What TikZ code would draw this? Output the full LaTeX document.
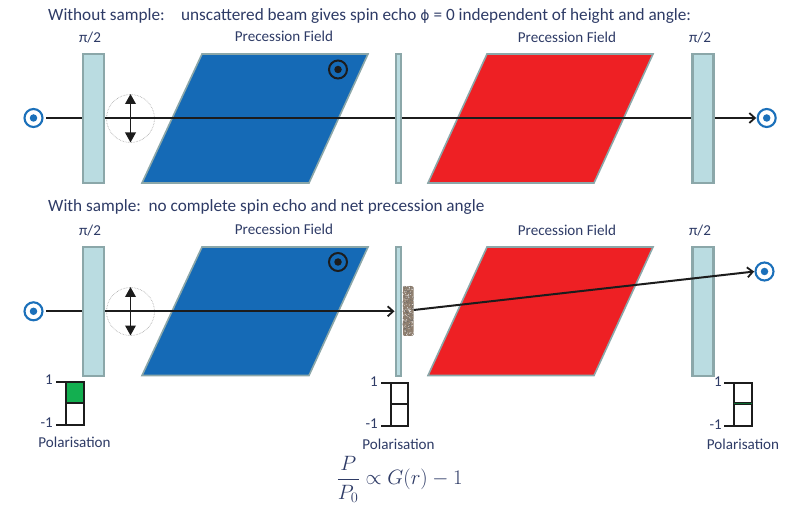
\documentclass[tikz,border=0pt]{standalone}
\usepackage{fontspec}
\usepackage{amsmath}
\setmainfont{Carlito}
\newfontfamily\symfont{DejaVu Sans}
\usetikzlibrary{arrows.meta,calc}
\definecolor{inkc}{HTML}{2E3B66}
\definecolor{platefill}{HTML}{BADCE1}
\definecolor{plateline}{HTML}{8BA7A9}
\definecolor{bluef}{HTML}{156AB6}
\definecolor{redf}{HTML}{EE2024}
\definecolor{ringc}{HTML}{1B70BA}
\definecolor{greenf}{HTML}{13AF50}
\definecolor{beamc}{HTML}{1C1C1C}
\tikzset{
  x=1pt,y=-1pt,
  plate/.style={draw=plateline,fill=platefill,line width=2.2pt,inner sep=0pt,minimum width=21pt,minimum height=129pt},
  thinplate/.style={plate,line width=1.6pt,minimum width=5pt},
  field/.style={draw=plateline,line width=1.6pt,line join=miter},
  ring/.style={circle,draw=ringc,fill=white,line width=2.1pt,minimum size=18pt,inner sep=0pt},
  ringdot/.style={circle,fill=ringc,minimum size=7.5pt,inner sep=0pt},
  bring/.style={circle,draw=beamc,line width=2pt,minimum size=18pt,inner sep=0pt},
  bdot/.style={circle,fill=beamc,minimum size=7.5pt,inner sep=0pt},
  beam/.style={draw=beamc,line width=2pt},
  beamarrow/.style={beam,-{Straight Barb[length=5.5pt,width=10pt,line width=1.8pt]}},
  flip/.style={draw=beamc,line width=1.8pt,{Triangle[length=10pt,width=10.5pt]}-{Triangle[length=10pt,width=10.5pt]}},
  halo/.style={circle,draw=gray!75,densely dotted,line width=.6pt,minimum size=48pt,inner sep=0pt},
  lab/.style={text=inkc,inner sep=0pt,font=\fontsize{15.1}{17}\selectfont},
  headline/.style={text=inkc,inner sep=0pt,anchor=west,font=\fontsize{17.2}{20}\selectfont},
  scale lab/.style={text=inkc,inner sep=0pt,font=\fontsize{15}{17}\selectfont},
  gauge/.style={draw=beamc,line width=2.6pt,line cap=butt},
}
\newcommand{\spin}[2]{% name, position
  \node[ring] (#1) at (#2) {};
  \node[ringdot] (#1dot) at (#1) {};
}
\newcommand{\gaugebox}[7]{% name, xl, xr, top, mid, bottom, tick-left
  \coordinate (#1tl) at (#2,#4);
  \coordinate (#1tr) at (#3,#4);
  \coordinate (#1bl) at (#2,#6);
  \coordinate (#1br) at (#3,#6);
  \coordinate (#1ml) at (#2,#5);
  \coordinate (#1mr) at (#3,#5);
  \coordinate (#1tt) at (#7,#4);
  \coordinate (#1tb) at (#7,#6);
  \draw[gauge] (#1tt) -- (#1tr) -- (#1br) -- (#1tb);
  \draw[gauge] (#1tl) -- (#1bl);
  \draw[gauge] (#1ml) -- (#1mr);
}
\begin{document}
\begin{tikzpicture}
\useasboundingbox (0,0) rectangle (785,505);
\fill[white] (0,0) rectangle (785,505);

% headings
\node[headline] (h1) at (48,16) {Without sample:\hspace{0.95em}unscattered beam gives spin echo {\symfont\fontsize{14}{16}\selectfont ϕ} = 0 independent of height and angle:};
\node[headline] (h2) at (48,207.5) {With sample:\hspace{0.45em}no complete spin echo and net precession angle};

% top row labels
\node[lab] (t1) at (90,38) {π/2};
\node[lab] (t2) at (284,36.5) {Precession Field};
\node[lab] (t3) at (567,37) {Precession Field};
\node[lab] (t4) at (700,38) {π/2};
% bottom row labels
\node[lab] (b1) at (90,230.5) {π/2};
\node[lab] (b2) at (284,229.5) {Precession Field};
\node[lab] (b3) at (567,230.5) {Precession Field};
\node[lab] (b4) at (700,230.5) {π/2};

% precession fields, top
\draw[field,fill=bluef] (202,54) -- (368,54) -- (309,183) -- (142,183) -- cycle;
\draw[field,fill=redf] (487,54) -- (653,54) -- (594,183) -- (428,183) -- cycle;
% precession fields, bottom
\draw[field,fill=bluef] (202,247) -- (368,247) -- (309,375.5) -- (142,375.5) -- cycle;
\draw[field,fill=redf] (487,247) -- (653,247) -- (594,375.5) -- (428,375.5) -- cycle;

% spin markers
\spin{sa}{33.5,118}
\spin{sb}{766.7,118}
\spin{sc}{33.5,311.3}
\spin{sd}{764.5,271.5}

% flip halos
\node[halo] (ha) at (130.5,118.5) {};
\node[halo] (hb) at (130.5,311.5) {};

% beams under the plates
\draw[beamarrow,shorten <=2.5pt,shorten >=.5pt] (sa.east) -- (sb.west);
\coordinate (sampleL) at (394.5,311.3);
\draw[beamarrow,shorten <=2.5pt] (sc.east) -- (sampleL);

% plates
\node[plate] (pa) at (93.5,118.5) {};
\node[thinplate] (pb) at (398.3,118.5) {};
\node[plate] (pc) at (703,118.5) {};
\node[plate] (pd) at (93.5,311.3) {};
\node[thinplate] (pe) at (398.3,311.3) {};
\node[plate] (pf) at (703,311.3) {};

% flip arrows
\coordinate (fa1) at (130.5,94);
\coordinate (fa2) at (130.5,142.5);
\coordinate (fb1) at (130.5,287);
\coordinate (fb2) at (130.5,335.5);
\draw[flip] (fa1) -- (fa2);
\draw[flip] (fb1) -- (fb2);

% field direction symbols
\node[bring] (fs1) at (338,69.5) {};
\node[bdot] (fs1d) at (fs1) {};
\node[bring] (fs2) at (338,262) {};
\node[bdot] (fs2d) at (fs2) {};

% sample
\begin{scope}
  \clip[rounded corners=1.5pt] (402.5,286) rectangle (413.5,336);
  \fill[gray!75!brown] (402.5,286) rectangle (413.5,336);
  \pgfmathsetseed{11}
  \foreach \i in {1,...,220}{
    \pgfmathsetmacro{\dx}{402.5+11*rnd}
    \pgfmathsetmacro{\dy}{286+50*rnd}
    \pgfmathsetmacro{\sh}{rnd>0.5 ? 60 : 5}
    \fill[black!\sh!white] (\dx,\dy) circle (.45pt);
  }
\end{scope}
\node[inner sep=0pt,minimum width=11pt,minimum height=50pt] (sample) at (408,311) {};

% scattered beam
\draw[beamarrow,shorten >=.3pt] (sample.east |- 0,310) -- (sd.west);

% polarisation gauges
\fill[greenf] (66,382) rectangle (84,403);
\gaugebox{ga}{66}{84}{382}{403}{425}{56}
\gaugebox{gb}{391}{408}{383}{404}{426}{381}
\gaugebox{gc}{734}{752}{383}{403.5}{426}{724}
\draw[greenf!60!black,line width=.8pt] (gcml) -- (gcmr);

\node[scale lab,anchor=east] (ga1) at (53,380) {1};
\node[scale lab,anchor=east] (ga2) at (53,423) {-1};
\node[scale lab,anchor=east] (gb1) at (378,382) {1};
\node[scale lab,anchor=east] (gb2) at (378,424) {-1};
\node[scale lab,anchor=east] (gc1) at (722,382) {1};
\node[scale lab,anchor=east] (gc2) at (722,425) {-1};

\node[lab] (pl1) at (74.5,442.5) {Polarisation};
\node[lab] (pl2) at (398.5,444) {Polarisation};
\node[lab] (pl3) at (743,444) {Polarisation};

% formula
\node[text=inkc,inner sep=0pt,anchor=west,font=\fontsize{19.5}{24}\selectfont] (eq) at (336.5,479.5) {$\dfrac{P}{P_0}\propto G(r)-1$};
\end{tikzpicture}
\end{document}
